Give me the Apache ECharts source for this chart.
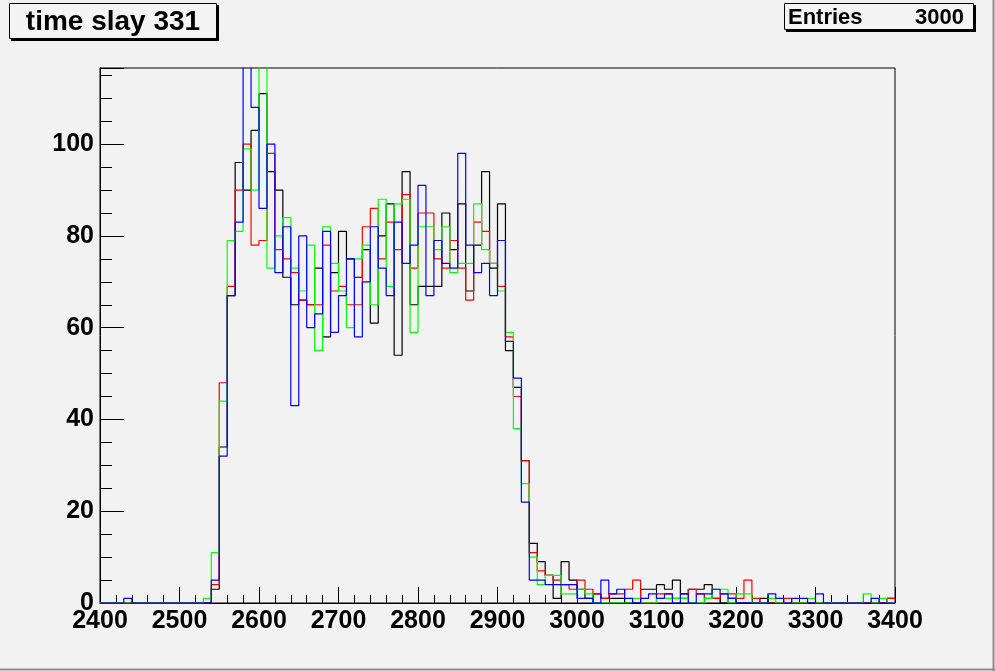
<!DOCTYPE html>
<html>
<head>
<meta charset="utf-8">
<script src="https://cdn.jsdelivr.net/npm/echarts@6/dist/echarts.min.js"></script>
<style>
html,body{margin:0;padding:0;background:#f2f2f2;}
#chart{width:995px;height:671px;}
</style>
</head>
<body>
<div id="chart"></div>
<script>
// histogram binning
const binLow = 2400;
const binWidth = 10;
const nBins = 100;

// counts per 10-unit bin, from 2400 to 3390 (bin lower edge)
const blackCounts = [
  0,0,0,0,0,0,0,0,0,0,
  0,0,0,0,3,34,67,96,90,103,
  111,94,90,71,65,66,65,73,58,72,
  81,75,71,77,61,80,87,54,94,65,
  69,69,69,85,77,87,68,78,94,73,
  87,55,47,31,13,9,6,1,9,5,
  3,1,2,1,1,1,0,0,3,3,
  4,3,5,2,3,3,4,1,0,1,
  0,0,0,1,0,0,0,0,0,0,
  0,0,0,0,0,0,0,0,0,1
];
const redCounts = [
  0,0,0,0,0,0,0,0,0,0,
  0,0,0,0,4,48,69,90,100,78,
  79,98,77,75,72,66,65,65,78,68,
  69,65,65,82,86,75,83,77,89,73,
  85,85,75,73,79,73,66,83,81,74,
  69,58,45,31,11,7,6,5,4,3,
  5,3,2,1,2,2,3,5,0,0,
  2,2,1,1,3,2,1,1,2,2,
  1,5,1,0,0,0,1,0,0,0,
  0,0,0,0,0,0,0,0,0,1
];
const greenCounts = [
  0,0,0,0,0,0,0,0,0,0,
  0,0,0,1,11,44,79,81,99,90,
  125,73,80,84,73,68,78,55,82,74,
  68,60,75,78,65,88,69,87,88,59,
  82,82,77,82,72,74,74,87,77,74,
  68,59,38,26,10,4,6,6,2,2,
  3,2,0,0,0,0,0,1,0,0,
  1,1,1,1,0,0,1,3,3,0,
  2,2,0,0,1,0,0,0,0,1,
  0,0,0,0,0,0,2,0,1,0
];
const blueCounts = [
  0,0,0,1,0,0,0,0,0,0,
  0,0,0,0,5,32,67,83,135,108,
  86,100,72,82,43,80,60,63,81,59,
  67,75,58,70,82,73,67,83,74,78,
  91,67,79,74,73,98,78,72,74,67,
  79,57,49,22,5,5,4,4,4,4,
  1,1,0,5,2,3,1,0,1,2,
  1,2,0,2,0,2,2,3,2,1,
  0,0,0,0,2,1,0,1,1,0,
  2,0,0,0,0,0,0,1,0,0
];

const seriesDefs = [
  {name: 'black', counts: blackCounts, color: '#000000'},
  {name: 'red',   counts: redCounts,   color: '#ff0000'},
  {name: 'green', counts: greenCounts, color: '#00ff00'},
  {name: 'blue',  counts: blueCounts,  color: '#0000ff'}
];

function histPoints(counts) {
  const pts = [];
  for (let i = 0; i < nBins; i++) pts.push([binLow + i * binWidth, counts[i]]);
  pts.push([binLow + nBins * binWidth, counts[nBins - 1]]);
  return pts;
}

const FONT = '"Liberation Sans", Arial, sans-serif';
const chart = echarts.init(document.getElementById('chart'), null, {renderer: 'canvas'});

chart.setOption({
  animation: false,
  backgroundColor: '#f2f2f2',
  grid: {
    left: 100, right: 100, top: 68, bottom: 68,
    show: true, borderColor: '#000', borderWidth: 1, backgroundColor: '#f2f2f2'
  },
  xAxis: {
    type: 'value', min: 2400, max: 3400, interval: 100,
    axisLine: {show: true, onZero: false, lineStyle: {color: '#000', width: 1}},
    axisTick: {show: true, inside: true, length: 16, lineStyle: {color: '#000', width: 1}},
    minorTick: {show: true, splitNumber: 5, length: 8, lineStyle: {color: '#000', width: 1}},
    splitLine: {show: false},
    axisLabel: {color: '#000', fontFamily: FONT, fontWeight: 'bold', fontSize: 25, margin: 6,
      formatter: function (v) { return String(v); }}
  },
  yAxis: {
    type: 'value', min: 0, max: 116.6, interval: 20,
    axisLine: {show: true, onZero: false, lineStyle: {color: '#000', width: 1}},
    axisTick: {show: true, inside: true, length: 24, lineStyle: {color: '#000', width: 1}},
    minorTick: {show: true, splitNumber: 4, length: 12, lineStyle: {color: '#000', width: 1}},
    splitLine: {show: false},
    axisLabel: {color: '#000', fontFamily: FONT, fontWeight: 'bold', fontSize: 25, margin: 6, showMaxLabel: false,
      formatter: function (v) { return String(v); }}
  },
  series: seriesDefs.map(function (s) {
    return {
      name: s.name, type: 'line', step: 'end', symbol: 'none', clip: true,
      data: histPoints(s.counts),
      lineStyle: {color: s.color, width: 1.2},
      itemStyle: {color: s.color}
    };
  }),
  graphic: [
    {type: 'line', shape: {x1: 993.5, y1: 0, x2: 993.5, y2: 671}, style: {stroke: '#8c8c8c', lineWidth: 2}},
    {type: 'line', shape: {x1: 0, y1: 669.5, x2: 995, y2: 669.5}, style: {stroke: '#8c8c8c', lineWidth: 2}},
    {type: 'rect', shape: {x: 11, y: 5, width: 208, height: 36}, style: {fill: '#000'}},
    {type: 'rect', shape: {x: 9.5, y: 3.5, width: 207, height: 35}, style: {fill: '#f4f4f4', stroke: '#000', lineWidth: 1}},
    {type: 'text', x: 113, y: 22, style: {text: 'time slay 331', font: 'bold 28px ' + FONT, fill: '#000', align: 'center', verticalAlign: 'middle'}},
    {type: 'rect', shape: {x: 786, y: 5, width: 190, height: 27}, style: {fill: '#000'}},
    {type: 'rect', shape: {x: 784.5, y: 3.5, width: 189, height: 26}, style: {fill: '#f4f4f4', stroke: '#000', lineWidth: 1}},
    {type: 'text', x: 788, y: 18, style: {text: 'Entries', font: 'bold 22px ' + FONT, fill: '#000', align: 'left', verticalAlign: 'middle'}},
    {type: 'text', x: 964, y: 18, style: {text: '3000', font: 'bold 22px ' + FONT, fill: '#000', align: 'right', verticalAlign: 'middle'}}
  ]
});
</script>
</body>
</html>
